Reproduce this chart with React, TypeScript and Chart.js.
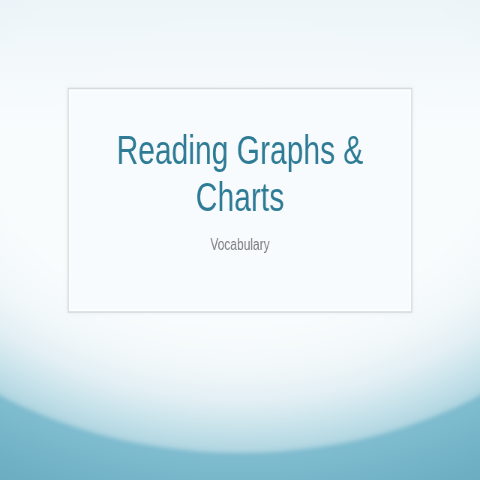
import React, { useEffect, useRef } from "react";
import { Chart, registerables } from "chart.js";

Chart.register(...registerables);

// Slide content (no numeric series on this slide)
const categories: string[] = [];
const seriesValues: number[] = [];
const titleLines = ["Reading Graphs &", "Charts"];
const subtitleText = "Vocabulary";

const FONT = "'Liberation Sans', Arial, Helvetica, sans-serif";

const slideBackground = {
  id: "slideBackground",
  beforeDraw(chart: any) {
    const ctx: CanvasRenderingContext2D = chart.ctx;
    const w = chart.width;
    const h = chart.height;
    const cx = w / 2;
    const cy = 132;
    const rx = 560;
    const ry = 321;
    ctx.save();
    // outer teal
    ctx.save();
    ctx.translate(cx, cy);
    ctx.scale(1, ry / rx);
    const outer = ctx.createRadialGradient(0, 0, 0, 0, 0, rx * 1.4);
    outer.addColorStop(0, "#86c1d3");
    outer.addColorStop(0.714, "#80bdd0");
    outer.addColorStop(0.85, "#6eafc4");
    outer.addColorStop(1, "#62a4ba");
    ctx.fillStyle = outer;
    ctx.fillRect(-cx * 2, -cy * 4, w * 3, h * 6);
    ctx.restore();

    // inner bright ellipse
    ctx.save();
    ctx.filter = "blur(2px)";
    ctx.translate(cx, cy);
    ctx.scale(1, ry / rx);
    const inner = ctx.createRadialGradient(0, 0, 0, 0, 0, rx);
    inner.addColorStop(0, "#fbfdfe");
    inner.addColorStop(0.6, "#f9fcfd");
    inner.addColorStop(0.74, "#f2f8fa");
    inner.addColorStop(0.84, "#e2eff4");
    inner.addColorStop(0.92, "#c9e3eb");
    inner.addColorStop(0.98, "#b6d9e3");
    inner.addColorStop(1, "#abd2de");
    ctx.fillStyle = inner;
    ctx.beginPath();
    ctx.arc(0, 0, rx, 0, Math.PI * 2);
    ctx.fill();
    ctx.restore();

    // top tint
    const top = ctx.createLinearGradient(0, 0, 0, 130);
    top.addColorStop(0, "rgba(228,240,246,0.55)");
    top.addColorStop(1, "rgba(228,240,246,0)");
    ctx.fillStyle = top;
    ctx.fillRect(0, 0, w, 130);

    // content frame
    const bx = 91, by = 88.5, bw = 458, bh = 223.5;
    ctx.save();
    ctx.shadowColor = "rgba(0,0,0,0.10)";
    ctx.shadowBlur = 4;
    ctx.fillStyle = "#f8fbfd";
    ctx.fillRect(bx, by, bw, bh);
    ctx.restore();
    ctx.strokeStyle = "#d5dbde";
    ctx.lineWidth = 1.5;
    ctx.strokeRect(bx, by, bw, bh);
    ctx.strokeStyle = "rgba(255,255,255,0.9)";
    ctx.lineWidth = 1;
    ctx.strokeRect(bx + 2, by + 2, bw - 4, bh - 4);
    ctx.restore();
  },
};

export default function App() {
  const ref = useRef<HTMLCanvasElement | null>(null);
  useEffect(() => {
    document.body.style.margin = "0";
    if (!ref.current) return;
    const chart = new Chart(ref.current, {
      type: "bar",
      data: {
        labels: categories,
        datasets: [{ data: seriesValues, backgroundColor: "#2d7a95" }],
      },
      options: {
        responsive: false,
        animation: false,
        devicePixelRatio: 1,
        events: [],
        layout: { padding: 0 },
        scales: { x: { display: false }, y: { display: false } },
        plugins: {
          legend: { display: false },
          tooltip: { enabled: false },
          title: {
            display: true,
            text: titleLines,
            color: "#2e7b96",
            font: { family: FONT, size: 40, weight: "normal", lineHeight: 1.175 },
            padding: { top: 129, bottom: 0 },
          },
          subtitle: {
            display: true,
            text: subtitleText,
            color: "#7b7d7f",
            font: { family: FONT, size: 16, weight: "normal", lineHeight: 1.2 },
            padding: { top: 13, bottom: 0 },
          },
        },
      },
      plugins: [slideBackground],
    });
    return () => chart.destroy();
  }, []);
  return (
    <div style={{ width: 480, height: 480, overflow: "hidden" }}>
      <div style={{ width: 640, height: 480, transform: "scale(0.75, 1)", transformOrigin: "0 0" }}>
        <canvas ref={ref} width={640} height={480} />
      </div>
    </div>
  );
}
